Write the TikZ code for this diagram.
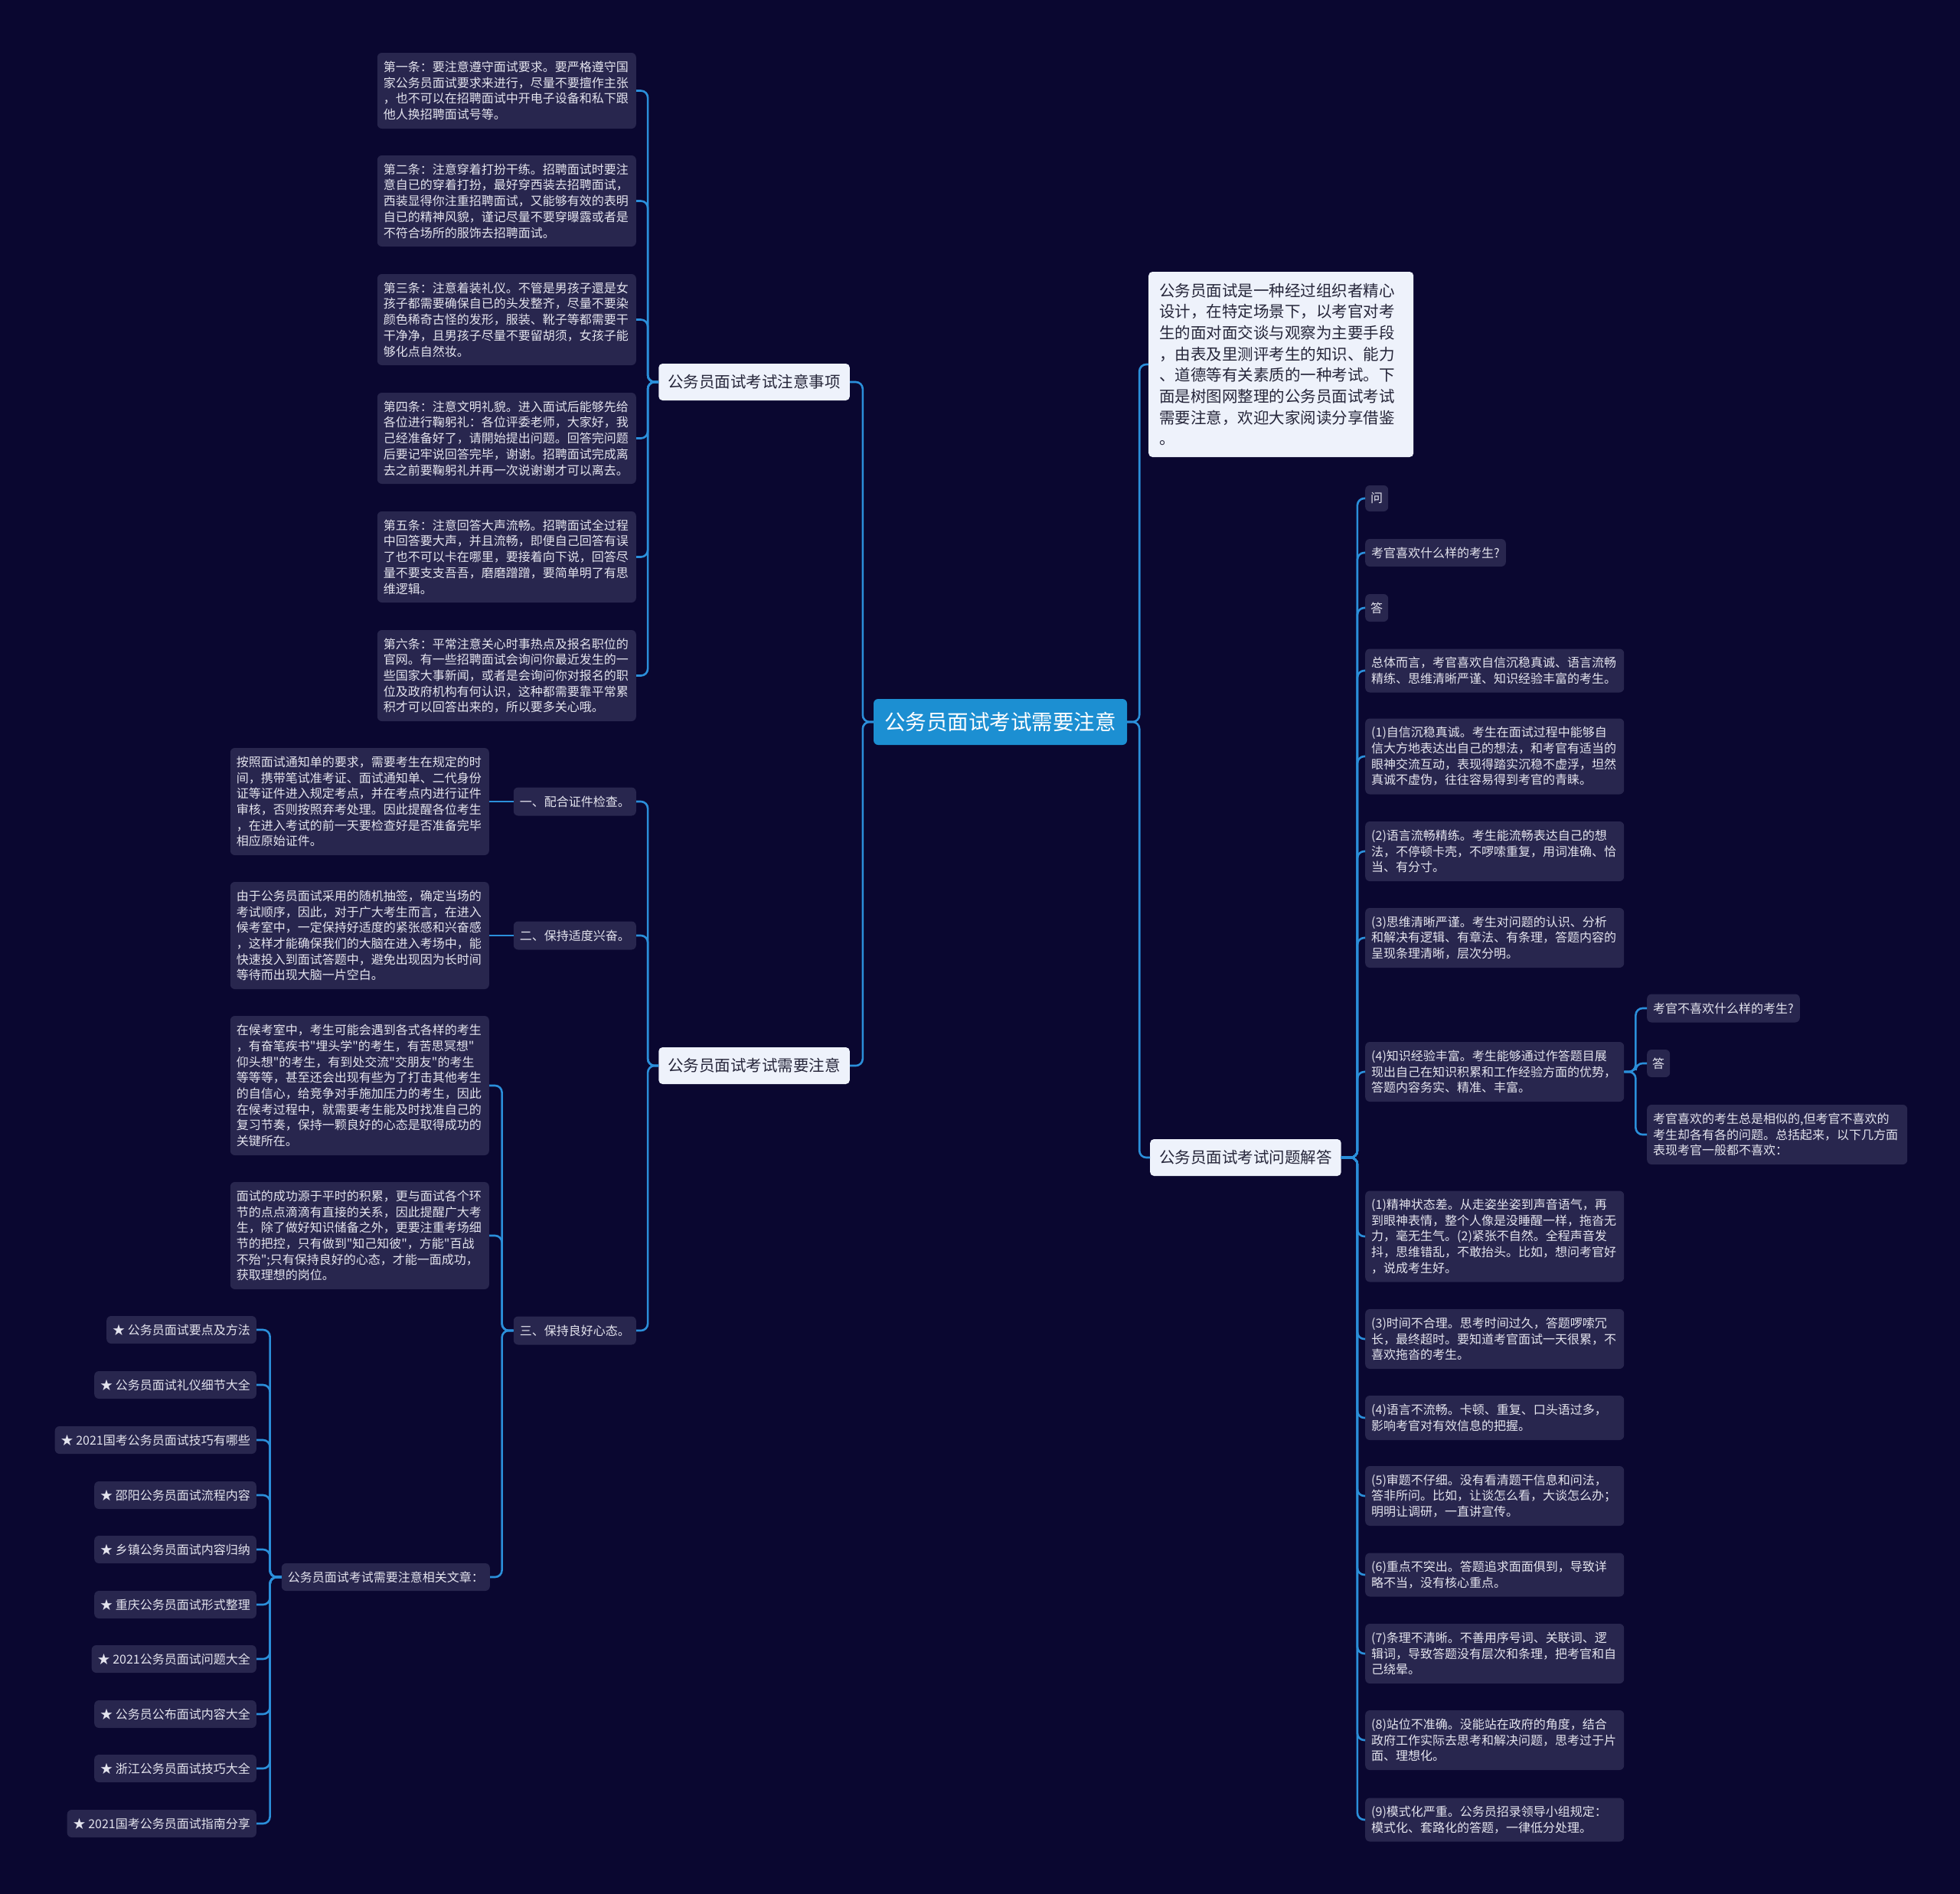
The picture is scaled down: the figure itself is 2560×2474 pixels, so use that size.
\documentclass[tikz,border=0pt]{standalone}
\usepackage{fontspec}
\newfontfamily\cjk{Noto Sans CJK SC}
\definecolor{bgc}{HTML}{0A0730}
\definecolor{boxc}{HTML}{28264E}
\definecolor{txtc}{HTML}{E4E4EE}
\definecolor{linec}{HTML}{2B8FDA}
\definecolor{rootc}{HTML}{1C8FD2}
\definecolor{lightc}{HTML}{EEF2FB}
\definecolor{darkt}{HTML}{26263A}
\tikzset{
 tb/.style={fill=boxc, text=txtc, rounded corners=6pt, align=left, inner xsep=8pt, inner ysep=0pt, font=\cjk\fontsize{16}{20.7}\selectfont},
 tbw/.style={tb, text width=322pt},
 sb/.style={tb, minimum height=36pt},
 lvone/.style={fill=lightc, text=darkt, rounded corners=5pt, inner xsep=12pt, inner ysep=0pt, minimum height=48pt, font=\cjk\fontsize{20.5}{26}\selectfont},
 conn/.style={draw=linec, line width=2.6pt, rounded corners=9pt},
}
\begin{document}
\begin{tikzpicture}[x=1pt,y=-1pt]
\path[use as bounding box, fill=bgc] (0,0) rectangle (2560,2474);

% root
\node[fill=rootc, text=white, rounded corners=6pt, minimum width=331pt, minimum height=60pt, inner sep=0pt, font=\cjk\fontsize{27.5}{33}\selectfont] (root) at (1306.5,943) {公务员面试考试需要注意};

% level one
\node[lvone, anchor=east] (A) at (1110,499) {公务员面试考试注意事项};
\node[lvone, anchor=east] (B) at (1110,1392) {公务员面试考试需要注意};
\node[lvone, anchor=west] (C) at (1502,1512) {公务员面试考试问题解答};
\node[lvone, anchor=west, align=left, text width=318pt, inner xsep=14pt, minimum height=242pt, font=\cjk\fontsize{20.5}{27.7}\selectfont] (I) at (1500,476) {公务员面试是一种经过组织者精心\\设计，在特定场景下，以考官对考\\生的面对面交谈与观察为主要手段\\，由表及里测评考生的知识、能力\\、道德等有关素质的一种考试。下\\面是树图网整理的公务员面试考试\\需要注意，欢迎大家阅读分享借鉴\\。};

% A children
\node[tbw, minimum height=99pt, anchor=east] (A1) at (831,118.5) {第一条：要注意遵守面试要求。要严格遵守国\\家公务员面试要求来进行，尽量不要擅作主张\\，也不可以在招聘面试中开电子设备和私下跟\\他人换招聘面试号等。};
\node[tbw, minimum height=119pt, anchor=east] (A2) at (831,262.5) {第二条：注意穿着打扮干练。招聘面试时要注\\意自已的穿着打扮，最好穿西装去招聘面试，\\西装显得你注重招聘面试，又能够有效的表明\\自已的精神风貌，谨记尽量不要穿曝露或者是\\不符合场所的服饰去招聘面试。};
\node[tbw, minimum height=119pt, anchor=east] (A3) at (831,417.5) {第三条：注意着装礼仪。不管是男孩子還是女\\孩子都需要确保自已的头发整齐，尽量不要染\\颜色稀奇古怪的发形，服装、靴子等都需要干\\干净净，且男孩子尽量不要留胡须，女孩子能\\够化点自然妆。};
\node[tbw, minimum height=119pt, anchor=east] (A4) at (831,572.5) {第四条：注意文明礼貌。进入面试后能够先给\\各位进行鞠躬礼：各位评委老师，大家好，我\\己经准备好了，请開始提出问题。回答完问题\\后要记牢说回答完毕，谢谢。招聘面试完成离\\去之前要鞠躬礼并再一次说谢谢才可以离去。};
\node[tbw, minimum height=119pt, anchor=east] (A5) at (831,727.5) {第五条：注意回答大声流畅。招聘面试全过程\\中回答要大声，并且流畅，即便自己回答有误\\了也不可以卡在哪里，要接着向下说，回答尽\\量不要支支吾吾，磨磨蹭蹭，要简单明了有思\\维逻辑。};
\node[tbw, minimum height=119pt, anchor=east] (A6) at (831,882.5) {第六条：平常注意关心时事热点及报名职位的\\官网。有一些招聘面试会询问你最近发生的一\\些国家大事新闻，或者是会询问你对报名的职\\位及政府机构有何认识，这种都需要靠平常累\\积才可以回答出来的，所以要多关心哦。};

% B children
\node[sb, anchor=east, minimum height=37pt] (B1) at (831,1047) {一、配合证件检查。};
\node[sb, anchor=east, minimum height=37pt] (B2) at (831,1222) {二、保持适度兴奋。};
\node[sb, anchor=east, minimum height=37pt] (B3) at (831,1738) {三、保持良好心态。};
\node[tbw, minimum height=140pt, anchor=east] (B1a) at (639,1047) {按照面试通知单的要求，需要考生在规定的时\\间，携带笔试准考证、面试通知单、二代身份\\证等证件进入规定考点，并在考点内进行证件\\审核，否则按照弃考处理。因此提醒各位考生\\，在进入考试的前一天要检查好是否准备完毕\\相应原始证件。};
\node[tbw, minimum height=140pt, anchor=east] (B2a) at (639,1222) {由于公务员面试采用的随机抽签，确定当场的\\考试顺序，因此，对于广大考生而言，在进入\\候考室中，一定保持好适度的紧张感和兴奋感\\，这样才能确保我们的大脑在进入考场中，能\\快速投入到面试答题中，避免出现因为长时间\\等待而出现大脑一片空白。};
\node[tbw, minimum height=182pt, anchor=east] (B3a) at (639,1418) {在候考室中，考生可能会遇到各式各样的考生\\，有奋笔疾书"埋头学"的考生，有苦思冥想"\\仰头想"的考生，有到处交流"交朋友"的考生\\等等等，甚至还会出现有些为了打击其他考生\\的自信心，给竞争对手施加压力的考生，因此\\在候考过程中，就需要考生能及时找准自己的\\复习节奏，保持一颗良好的心态是取得成功的\\关键所在。};
\node[tbw, minimum height=140pt, anchor=east] (B3b) at (639,1614) {面试的成功源于平时的积累，更与面试各个环\\节的点点滴滴有直接的关系，因此提醒广大考\\生，除了做好知识储备之外，更要注重考场细\\节的把控，只有做到"知己知彼"，方能"百战\\不殆";只有保持良好的心态，才能一面成功，\\获取理想的岗位。};
\node[sb, anchor=east] (B3c) at (640,2060) {公务员面试考试需要注意相关文章：};

% star list
\node[sb, anchor=east] (S1) at (335,1737) {★ 公务员面试要点及方法};
\node[sb, anchor=east] (S2) at (335,1809) {★ 公务员面试礼仪细节大全};
\node[sb, anchor=east] (S3) at (335,1881) {★ 2021国考公务员面试技巧有哪些};
\node[sb, anchor=east] (S4) at (335,1953) {★ 邵阳公务员面试流程内容};
\node[sb, anchor=east] (S5) at (335,2024) {★ 乡镇公务员面试内容归纳};
\node[sb, anchor=east] (S6) at (335,2096) {★ 重庆公务员面试形式整理};
\node[sb, anchor=east] (S7) at (335,2167) {★ 2021公务员面试问题大全};
\node[sb, anchor=east] (S8) at (335,2239) {★ 公务员公布面试内容大全};
\node[sb, anchor=east] (S9) at (335,2310) {★ 浙江公务员面试技巧大全};
\node[sb, anchor=east] (S10) at (335,2382) {★ 2021国考公务员面试指南分享};

% C children
\node[sb, anchor=west, minimum height=34pt, inner xsep=7pt] (C1) at (1783,651) {问};
\node[sb, anchor=west] (C2) at (1783,722) {考官喜欢什么样的考生?};
\node[sb, anchor=west, inner xsep=7pt] (C3) at (1783,794) {答};
\node[tbw, minimum height=57pt, anchor=west] (C4) at (1783,876) {总体而言，考官喜欢自信沉稳真诚、语言流畅\\精练、思维清晰严谨、知识经验丰富的考生。};
\node[tbw, minimum height=99pt, anchor=west] (C5) at (1783,988) {(1)自信沉稳真诚。考生在面试过程中能够自\\信大方地表达出自己的想法，和考官有适当的\\眼神交流互动，表现得踏实沉稳不虚浮，坦然\\真诚不虚伪，往往容易得到考官的青睐。};
\node[tbw, minimum height=78pt, anchor=west] (C6) at (1783,1112) {(2)语言流畅精练。考生能流畅表达自己的想\\法，不停顿卡壳，不啰嗦重复，用词准确、恰\\当、有分寸。};
\node[tbw, minimum height=78pt, anchor=west] (C7) at (1783,1225) {(3)思维清晰严谨。考生对问题的认识、分析\\和解决有逻辑、有章法、有条理，答题内容的\\呈现条理清晰，层次分明。};
\node[tbw, minimum height=78pt, anchor=west] (C8) at (1783,1400) {(4)知识经验丰富。考生能够通过作答题目展\\现出自己在知识积累和工作经验方面的优势，\\答题内容务实、精准、丰富。};
\node[tbw, minimum height=119pt, anchor=west] (C9) at (1783,1615) {(1)精神状态差。从走姿坐姿到声音语气，再\\到眼神表情，整个人像是没睡醒一样，拖沓无\\力，毫无生气。(2)紧张不自然。全程声音发\\抖，思维错乱，不敢抬头。比如，想问考官好\\，说成考生好。};
\node[tbw, minimum height=78pt, anchor=west] (C10) at (1783,1749) {(3)时间不合理。思考时间过久，答题啰嗦冗\\长，最终超时。要知道考官面试一天很累，不\\喜欢拖沓的考生。};
\node[tbw, minimum height=58pt, anchor=west] (C11) at (1783,1852) {(4)语言不流畅。卡顿、重复、口头语过多，\\影响考官对有效信息的把握。};
\node[tbw, minimum height=78pt, anchor=west] (C12) at (1783,1954) {(5)审题不仔细。没有看清题干信息和问法，\\答非所问。比如，让谈怎么看，大谈怎么办；\\明明让调研，一直讲宣传。};
\node[tbw, minimum height=57pt, anchor=west] (C13) at (1783,2057) {(6)重点不突出。答题追求面面俱到，导致详\\略不当，没有核心重点。};
\node[tbw, minimum height=78pt, anchor=west] (C14) at (1783,2160) {(7)条理不清晰。不善用序号词、关联词、逻\\辑词，导致答题没有层次和条理，把考官和自\\己绕晕。};
\node[tbw, minimum height=78pt, anchor=west] (C15) at (1783,2273) {(8)站位不准确。没能站在政府的角度，结合\\政府工作实际去思考和解决问题，思考过于片\\面、理想化。};
\node[tbw, minimum height=57pt, anchor=west] (C16) at (1783,2377) {(9)模式化严重。公务员招录领导小组规定：\\模式化、套路化的答题，一律低分处理。};

% C8 children
\node[sb, anchor=west, minimum height=37pt] (D1) at (2151,1317) {考官不喜欢什么样的考生?};
\node[sb, anchor=west, inner xsep=7pt] (D2) at (2151,1389) {答};
\node[tb, text width=324pt, minimum height=78pt, anchor=west] (D3) at (2151,1482) {考官喜欢的考生总是相似的,但考官不喜欢的\\考生却各有各的问题。总括起来，以下几方面\\表现考官一般都不喜欢：};

% connectors
\foreach \c in {A,B} \draw[conn] (root.west) -- ++(-14,0) |- (\c.east);
\foreach \c in {I,C} \draw[conn] (root.east) -- ++(16,0) |- (\c.west);
\foreach \c in {A1,A2,A3,A4,A5,A6} \draw[conn] (A.west) -- ++(-14,0) |- (\c.east);
\foreach \c in {B1,B2,B3} \draw[conn] (B.west) -- ++(-14,0) |- (\c.east);
\draw[conn] (B1.west) -- (B1a.east);
\draw[conn] (B2.west) -- (B2a.east);
\foreach \c in {B3a,B3b,B3c} \draw[conn] (B3.west) -- ++(-15,0) |- (\c.east);
\foreach \c in {S1,S2,S3,S4,S5,S6,S7,S8,S9,S10} \draw[conn] (B3c.west) -- ++(-15,0) |- (\c.east);
\foreach \c in {C1,C2,C3,C4,C5,C6,C7,C8,C9,C10,C11,C12,C13,C14,C15,C16} \draw[conn] (C.east) -- ++(21,0) |- (\c.west);
\foreach \c in {D1,D2,D3} \draw[conn] (C8.east) -- ++(15,0) |- (\c.west);
\end{tikzpicture}
\end{document}
